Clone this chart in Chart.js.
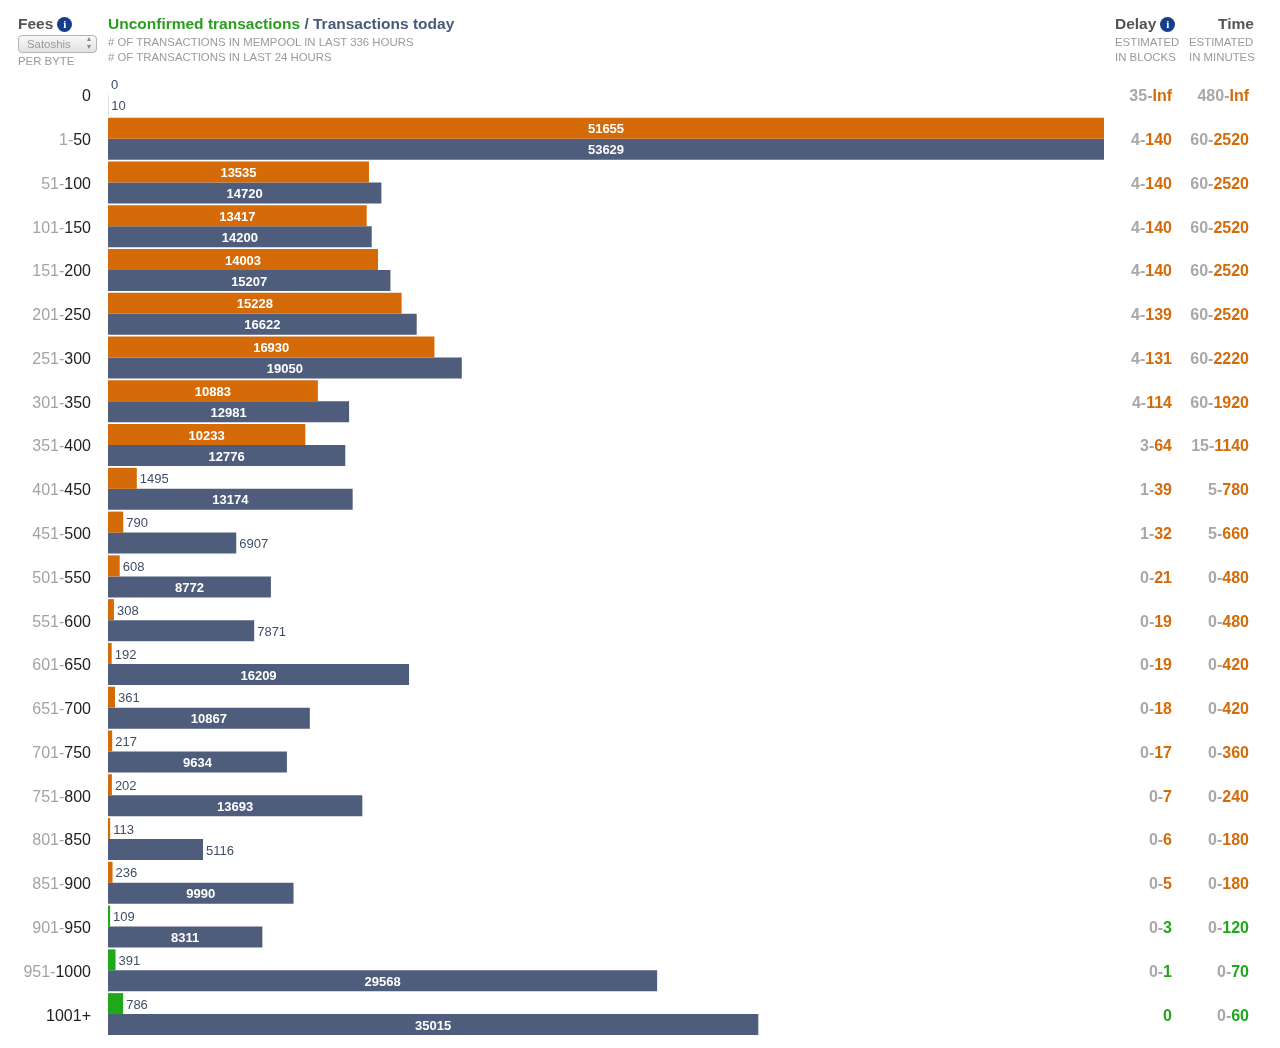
<!DOCTYPE html>
<html><head><meta charset="utf-8">
<script src="https://cdn.jsdelivr.net/npm/chart.js@4"></script>
<style>
html,body{margin:0;padding:0;background:#fff;width:1280px;height:1048px;overflow:hidden;font-family:"Liberation Sans",Arial,sans-serif;}
#wrap{position:absolute;left:0;top:0;width:1280px;height:1048px;}
canvas{position:absolute;left:0;top:0;}
.t{position:absolute;white-space:nowrap;}
.h{font-weight:bold;font-size:15.5px;color:#555;}
.sub{font-size:11.4px;color:#9a9a9a;line-height:15px;}
.info{display:inline-block;width:15px;height:15px;border-radius:50%;background:#163d8c;color:#fff;font:bold 11px "Liberation Serif",serif;text-align:center;line-height:15px;vertical-align:1px;margin-left:4px;}
#sel{position:absolute;left:18px;top:35px;width:77px;height:16px;border:1px solid #b5b5b5;border-radius:4px;background:linear-gradient(#f8f8f8,#e2e2e2);font-size:11.4px;color:#999;line-height:16px;}
</style></head>
<body><div id="wrap">
<canvas id="c" width="1280" height="1048"></canvas>
<div class="t h" style="left:18px;top:15px;">Fees<span class="info">i</span></div>
<div id="sel"><span style="position:absolute;left:8px;">Satoshis</span><span style="position:absolute;right:5px;top:-1px;font-size:8px;line-height:8px;color:#888;">▴<br>▾</span></div>
<div class="t sub" style="left:18px;top:54px;">PER BYTE</div>
<div class="t h" style="left:108px;top:15px;"><span style="color:#2a9e1e">Unconfirmed transactions</span> <span style="color:#4a5a78">/ Transactions today</span></div>
<div class="t sub" style="left:108px;top:35px;"># OF TRANSACTIONS IN MEMPOOL IN LAST 336 HOURS<br># OF TRANSACTIONS IN LAST 24 HOURS</div>
<div class="t h" style="left:1115px;top:15px;">Delay<span class="info">i</span></div>
<div class="t h" style="right:26px;top:15px;">Time</div>
<div class="t sub" style="left:1115px;top:35px;">ESTIMATED<br>IN BLOCKS</div>
<div class="t sub" style="left:1189px;top:35px;">ESTIMATED<br>IN MINUTES</div>
</div>
<script>
const feeRanges = ["0","1-50","51-100","101-150","151-200","201-250","251-300","301-350","351-400","401-450","451-500","501-550","551-600","601-650","651-700","701-750","751-800","801-850","851-900","901-950","951-1000","1001+"];
const unconfirmed = [0,51655,13535,13417,14003,15228,16930,10883,10233,1495,790,608,308,192,361,217,202,113,236,109,391,786];
const today = [10,53629,14720,14200,15207,16622,19050,12981,12776,13174,6907,8772,7871,16209,10867,9634,13693,5116,9990,8311,29568,35015];
const delayBlocks = ["35-Inf","4-140","4-140","4-140","4-140","4-139","4-131","4-114","3-64","1-39","1-32","0-21","0-19","0-19","0-18","0-17","0-7","0-6","0-5","0-3","0-1","0"];
const timeMinutes = ["480-Inf","60-2520","60-2520","60-2520","60-2520","60-2520","60-2220","60-1920","15-1140","5-780","5-660","0-480","0-480","0-420","0-420","0-360","0-240","0-180","0-180","0-120","0-70","0-60"];
const fastRows = [false,false,false,false,false,false,false,false,false,false,false,false,false,false,false,false,false,false,false,true,true,true];

const ORANGE = "#d46b08", GREEN = "#1fa81b", BLUE = "#4e5d7b";
const FONT = '"Liberation Sans", Arial, sans-serif';

function drawSplit(ctx, text, xRight, y, firstColor, lastColor, bold, size){
  const w = bold ? "bold " : "";
  ctx.font = w + size + "px " + FONT;
  const idx = text.lastIndexOf("-");
  let a = "", b = text;
  if (idx >= 0 && !text.endsWith("+")) { a = text.slice(0, idx + 1); b = text.slice(idx + 1); }
  ctx.textAlign = "right"; ctx.textBaseline = "middle";
  ctx.fillStyle = lastColor; ctx.fillText(b, xRight, y);
  const bw = ctx.measureText(b).width;
  ctx.fillStyle = firstColor; ctx.fillText(a, xRight - bw, y);
}

const overlay = {
  id: "overlay",
  afterDatasetsDraw(chart){
    const ctx = chart.ctx, ys = chart.scales.y;
    ctx.save();
    feeRanges.forEach((lab, i) => {
      const y = ys.getPixelForValue(i) + 2;
      drawSplit(ctx, lab, 91, y, "#a3a3a3", "#222", false, 16);
      const c = fastRows[i] ? GREEN : ORANGE;
      drawSplit(ctx, delayBlocks[i], 1172, y, "#a8a8a8", c, true, 16);
      drawSplit(ctx, timeMinutes[i], 1249, y, "#a8a8a8", c, true, 16);
    });
    chart.data.datasets.forEach((ds, di) => {
      const meta = chart.getDatasetMeta(di);
      meta.data.forEach((bar, i) => {
        const v = ds.data[i];
        const left = bar.base, right = bar.x;
        ctx.textBaseline = "middle";
        if (v >= 8000) {
          ctx.font = "bold 13px " + FONT; ctx.fillStyle = "#fff"; ctx.textAlign = "center";
          ctx.fillText(String(v), (left + right) / 2, bar.y + 1.5);
        } else {
          ctx.font = "13px " + FONT; ctx.fillStyle = "#3f4d68"; ctx.textAlign = "left";
          ctx.fillText(String(v), right + 3, bar.y + 1.5);
        }
      });
    });
    ctx.restore();
  }
};

new Chart(document.getElementById("c"), {
  type: "bar",
  data: {
    labels: feeRanges,
    datasets: [
      { label: "Unconfirmed transactions", data: unconfirmed, xAxisID: "x",
        backgroundColor: fastRows.map(f => f ? GREEN : ORANGE),
        categoryPercentage: 0.96, barPercentage: 1.0, borderWidth: 0 },
      { label: "Transactions today", data: today, xAxisID: "x2",
        backgroundColor: BLUE,
        categoryPercentage: 0.96, barPercentage: 1.0, borderWidth: 0 }
    ]
  },
  options: {
    indexAxis: "y",
    responsive: false,
    animation: false,
    layout: { padding: { left: 108, right: 176, top: 73, bottom: 12 } },
    scales: {
      x: { display: false, min: 0, max: Math.max(...unconfirmed) },
      x2: { display: false, min: 0, max: Math.max(...today), position: "top" },
      y: { display: false }
    },
    plugins: { legend: { display: false }, tooltip: { enabled: false } }
  },
  plugins: [overlay]
});
</script>
</body></html>
